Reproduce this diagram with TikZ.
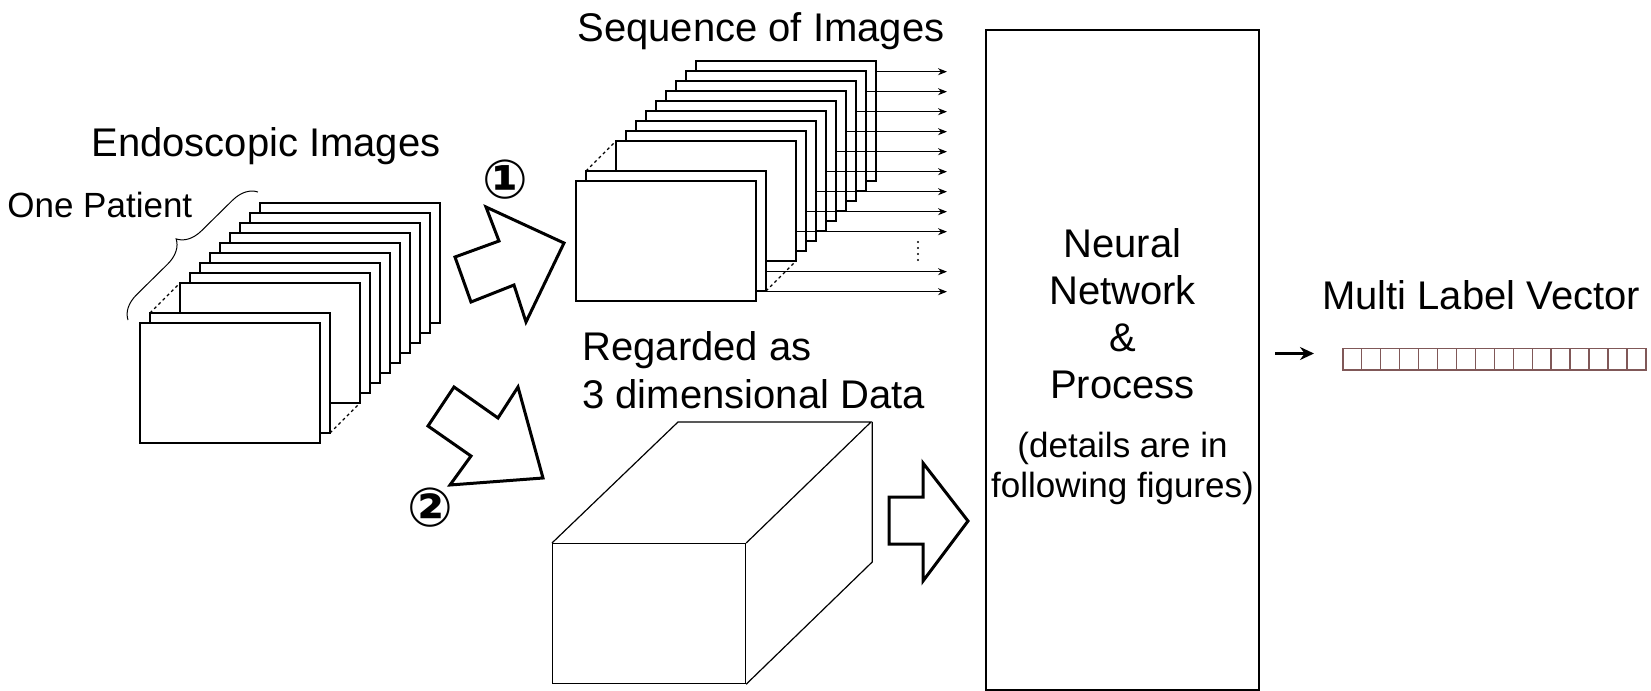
\documentclass[tikz,border=0pt]{standalone}
\usepackage{fontspec}
\setmainfont{Liberation Sans}
\newfontfamily\dejavu{DejaVu Sans}
\usepackage{xcolor}
\usepackage{tikz}
\usetikzlibrary{arrows.meta,positioning,calc,decorations.pathreplacing}
\definecolor{vecbrown}{RGB}{128,88,88}
\newcommand{\bigfont}{\fontsize{20pt}{24pt}\selectfont}
\newcommand{\smallfont}{\fontsize{17.5pt}{21pt}\selectfont}
\newcommand{\numfont}{\dejavu\fontsize{27pt}{30pt}\selectfont}

\begin{document}
\begin{tikzpicture}[x=0.5pt,y=-0.5pt,>={Stealth[length=4.5pt,width=3.5pt]},font=\bigfont,
  frame/.style={draw,fill=white,line width=0.6pt,inner sep=0pt,outer sep=0pt,minimum width=90pt,minimum height=60pt,anchor=north west},
  gap/.style={line width=0.6pt,dash pattern=on 1.5pt off 1.5pt},
  fat/.style={draw,fill=white,line width=1.5pt},
  cell/.style={draw=vecbrown,line width=0.8pt,inner sep=0pt,minimum width=9.48pt,minimum height=10.65pt},
  txt/.style={inner sep=0pt,anchor=base}]
\useasboundingbox (0,0) rectangle (1651,691);

\foreach \k/\d in {10/120,9/110,8/100,7/90,6/80,5/70,4/60,3/50,2/40,1/10,0/0}
  \node[frame] (l\k) at ({140+\d},{323-\d}) {};
\draw[gap] (l1.north west)--(l2.north west) (l1.south east)--(l2.south east);
\draw[line width=0.5pt,decorate,decoration={brace,amplitude=12pt}] (128,320)--(258,192);
\node[txt] (endo) at (266,156) {Endoscopic Images};
\node[txt,anchor=base west,font=\smallfont] (patient) at (7,217) {One Patient};

\draw[fat] (455,257)--(499,241)--(486,207)--(564,243)--(526,322)--(514,285)--(471,302)--cycle;
\draw[fat] (454,387)--(498,418)--(518,387)--(543,478)--(450,485)--(471,456)--(428,426)--cycle;
\node[font=\numfont,inner sep=0pt] (one) at (505,180) {\textbf{①}};
\node[font=\numfont,inner sep=0pt] (two) at (430,508) {\textbf{②}};

\foreach \k/\d in {10/120,9/110,8/100,7/90,6/80,5/70,4/60,3/50,2/40,1/10,0/0}
  \node[frame] (m\k) at ({576+\d},{181-\d}) {};
\draw[gap] (m1.north west)--(m2.north west) (m1.south east)--(m2.south east);
\foreach \k/\y in {10/71.7,9/91.7,8/111.7,7/131.7,6/151.7,5/171.7,4/191.7,3/211.7,2/231.7,1/271.7,0/291.7}{
  \coordinate (s\k) at (947,\y);
  \draw[->,line width=0.6pt] (m\k.east |- s\k)--(s\k);
}
\draw[line width=1.2pt,line cap=round,dash pattern=on 0pt off 3pt] (918,242)--(918,263);
\node[txt] (seq) at (761,41.7) {Sequence of Images};

\node[txt,anchor=base west] (reg1) at (582,360) {Regarded as};
\node[txt,anchor=base west] (reg2) at (582,408) {3 dimensional Data};
\node[draw,line width=0.6pt,inner sep=0pt,minimum width=96.5pt,minimum height=70pt,anchor=north west] (cube) at (552,543) {};
\draw[line width=0.6pt] (cube.north west)--++(126,-121)--++(193,0)--(cube.north east);
\draw[line width=0.6pt] (cube.north east)++(126,-121)--++(0,140)--(cube.south east);

\draw[fat] (889,497)--(923,497)--(923,463)--(968,521)--(923,581)--(923,544)--(889,544)--cycle;

\node[draw,line width=1pt,inner sep=0pt,minimum width=136.8pt,minimum height=330pt] (nn) at (1122.5,360) {};
\foreach \t/\y [count=\i] in {Neural/257,Network/304,\&/351,Process/398}
  \node[txt] (nnl\i) at (1122.5,\y) {\t};
\node[txt,font=\smallfont] (nnd1) at (1122.5,457) {(details are in};
\node[txt,font=\smallfont] (nnd2) at (1122.5,497) {following figures)};

\coordinate (outa) at (1275,353.5);
\coordinate (outb) at (1314,353.5);
\draw[line width=1.4pt,-{Stealth[length=7pt,width=6.5pt]}] (outa)--(outb);
\node[txt] (mlv) at (1481,309) {Multi Label Vector};
\foreach \i in {1,...,16}
  \node[cell] (v\i) at ({1342.7+18.96*(\i-0.5)},359.3) {};
\end{tikzpicture}
\end{document}
